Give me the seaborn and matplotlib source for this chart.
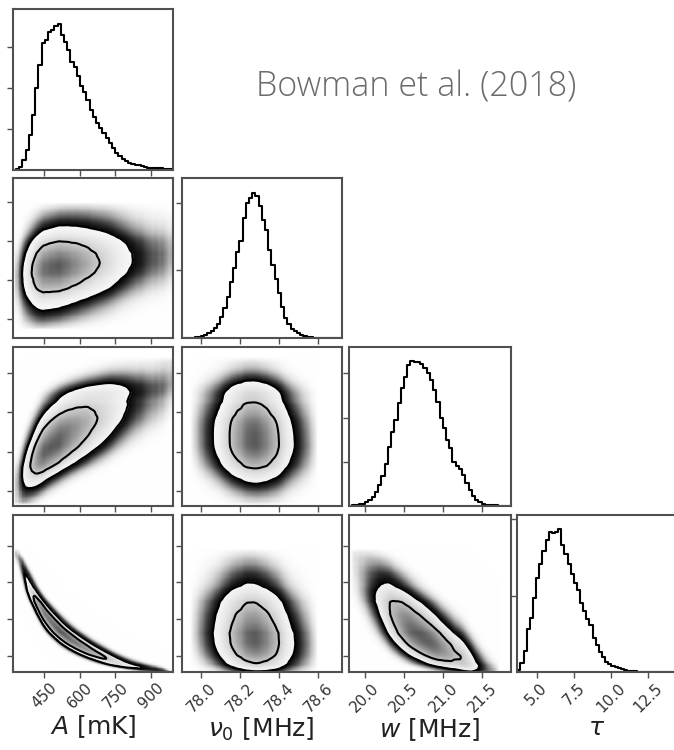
import math
import numpy as np
import pandas as pd
import matplotlib
matplotlib.use("Agg")
import matplotlib.pyplot as plt
import seaborn as sns

# parameter names / axis setup
labels = ["$A$ [mK]", r"$\nu_0$ [MHz]", "$w$ [MHz]", r"$\tau$"]
x_ranges = [(318, 993), (77.90, 78.72), (19.80, 21.86), (3.70, 14.30)]
y_ranges = [(318, 993), (77.90, 78.72), (19.81, 21.84), (3.91, 14.59)]
hist_ranges = [(318, 993), (77.90, 78.72), (19.80, 21.86), (3.70, 14.25)]
ticks = [[450, 600, 750, 900], [78.0, 78.2, 78.4, 78.6],
         [20.0, 20.5, 21.0, 21.5], [5.0, 7.5, 10.0, 12.5]]
tick_labels = [["450", "600", "750", "900"], ["78.0", "78.2", "78.4", "78.6"],
               ["20.0", "20.5", "21.0", "21.5"], ["5.0", "7.5", "10.0", "12.5"]]

# marginal histograms (50 bins each, heights)
hist_A = [0.01, 0.02, 0.08, 0.24, 0.49, 0.85, 1.34, 1.99, 2.56, 3.09,
          3.17, 3.37, 3.41, 3.50, 3.56, 3.29, 3.13, 2.93, 2.64, 2.52,
          2.29, 2.05, 1.89, 1.71, 1.46, 1.30, 1.15, 1.02, 0.89, 0.77,
          0.65, 0.53, 0.42, 0.35, 0.28, 0.23, 0.18, 0.15, 0.12, 0.11,
          0.09, 0.07, 0.06, 0.05, 0.05, 0.04, 0.04, 0.03, 0.02, 0.02]
hist_nu0 = [0.0, 0.0, 0.0, 0.005, 0.01, 0.02, 0.03, 0.05, 0.07, 0.10,
            0.15, 0.21, 0.31, 0.45, 0.60, 0.83, 1.03, 1.28, 1.43, 1.78,
            2.00, 2.07, 2.15, 2.11, 1.95, 1.75, 1.60, 1.30, 1.08, 0.88,
            0.66, 0.46, 0.30, 0.21, 0.14, 0.10, 0.07, 0.045, 0.03, 0.02,
            0.01, 0.005, 0.0, 0.0, 0.0, 0.0, 0.0, 0.0, 0.0, 0.0]
hist_w = [0.0, 0.01, 0.015, 0.03, 0.045, 0.08, 0.13, 0.20, 0.30, 0.47,
          0.67, 0.95, 1.34, 1.68, 1.95, 2.33, 2.67, 2.93, 3.20, 3.28,
          3.26, 3.25, 3.22, 3.12, 3.01, 2.86, 2.63, 2.36, 1.98, 1.76,
          1.49, 1.30, 1.00, 0.90, 0.83, 0.70, 0.51, 0.36, 0.22, 0.13,
          0.08, 0.045, 0.025, 0.015, 0.01, 0.005, 0.0, 0.0, 0.0, 0.0]
hist_tau = [0.03, 0.12, 0.28, 0.56, 0.71, 0.97, 1.23, 1.42, 1.58, 1.73,
            1.83, 1.82, 1.84, 1.87, 1.67, 1.54, 1.41, 1.28, 1.17, 1.07,
            0.91, 0.80, 0.69, 0.61, 0.45, 0.35, 0.26, 0.19, 0.13, 0.10,
            0.08, 0.06, 0.05, 0.035, 0.026, 0.017, 0.013, 0.009, 0.005, 0.003,
            0.0, 0.0, 0.0, 0.0, 0.0, 0.0, 0.0, 0.0, 0.0, 0.0]
hists = [hist_A, hist_nu0, hist_w, hist_tau]

# pairwise correlations (row, col)
corr = {(1, 0): 0.2, (2, 0): 0.7, (2, 1): -0.05,
        (3, 0): -0.97, (3, 1): -0.1, (3, 2): -0.75}
mass_levels = [0.68, 0.95]

# panel geometry in pixels (left, right) and (top, bottom)
W, H = 674, 750
cols_px = [(12.7, 173), (181.7, 341.7), (349, 510.7), (517.3, 675)]
rows_px = [(9.3, 170), (178.3, 338), (346.7, 505.7), (515, 672)]

sns.set_style("ticks")
plt.rcParams["font.family"] = ["DejaVu Sans"]
frame_col = "#505050"

zz = np.linspace(-5.5, 5.5, 4001)
Phi = 0.5 * (1 + np.vectorize(math.erf)(zz / math.sqrt(2)))


def marginal(k, g):
    h = np.array(hists[k])
    lo, hi = hist_ranges[k]
    edges = np.linspace(lo, hi, len(h) + 1)
    centers = 0.5 * (edges[1:] + edges[:-1])
    f = np.interp(g, centers, h, left=0, right=0)
    cdf = np.concatenate([[0], np.cumsum(h)]) / h.sum()
    F = np.clip(np.interp(g, edges, cdf), 1e-4, 1 - 1e-4)
    z = np.interp(F, Phi, zz)
    return f, z


fig = plt.figure(figsize=(W / 100, H / 100), dpi=100)

for r in range(4):
    for c in range(r + 1):
        x0, x1 = cols_px[c]
        y0, y1 = rows_px[r]
        ax = fig.add_axes([x0 / W, 1 - y1 / H, (x1 - x0) / W, (y1 - y0) / H])
        if r == c:
            h = np.array(hists[c])
            lo, hi = hist_ranges[c]
            edges = np.linspace(lo, hi, len(h) + 1)
            df = pd.DataFrame({"val": 0.5 * (edges[1:] + edges[:-1]), "cnt": h})
            sns.histplot(data=df, x="val", weights="cnt", bins=len(h),
                         binrange=(lo, hi), element="step", fill=False,
                         color="black", linewidth=1.5, ax=ax)
            top = h.max() * 1.1
            ax.set_ylim(0, top)
            ax.set_yticks(np.arange(1, int(top) + 1))
        else:
            gx = np.linspace(*x_ranges[c], 260)
            gy = np.linspace(*y_ranges[r], 260)
            fx, zx = marginal(c, gx)
            fy, zy = marginal(r, gy)
            rho = corr[(r, c)]
            Z1 = zx[None, :]
            Z2 = zy[:, None]
            cop = np.exp(-(rho ** 2 * (Z1 ** 2 + Z2 ** 2) - 2 * rho * Z1 * Z2)
                         / (2 * (1 - rho ** 2))) / np.sqrt(1 - rho ** 2)
            D = fy[:, None] * fx[None, :] * cop
            s = np.sort(D.ravel())[::-1]
            cum = np.cumsum(s) / s.sum()
            L68 = s[np.searchsorted(cum, mass_levels[0])]
            L95 = s[np.searchsorted(cum, mass_levels[1])]
            outer = 1 - np.exp(-(3.2 * D / L95) ** 1.05)
            dark = np.where(D < L95, outer, 0.65 * D / D.max())
            gray = 1 - dark
            img = np.dstack([gray, gray, gray])
            ax.imshow(img, extent=[*x_ranges[c], *y_ranges[r]], origin="lower",
                      aspect="auto", interpolation="bilinear")
            ax.contour(gx, gy, D, levels=[L95, L68], colors="black",
                       linewidths=1.5)
            ax.set_ylim(*y_ranges[r])
            ax.set_yticks(ticks[r])
        ax.set_xlim(*x_ranges[c])
        ax.set_xticks(ticks[c])
        ax.set_xlabel("")
        ax.set_ylabel("")
        ax.set_yticklabels([])
        if r == 3:
            ax.set_xticklabels(tick_labels[c], rotation=45, fontsize=11,
                               color="#333333")
            ax.set_xlabel(labels[c], fontsize=18, labelpad=1, color="#222222")
        else:
            ax.set_xticklabels([])
        for sp in ax.spines.values():
            sp.set_visible(True)
            sp.set_color(frame_col)
            sp.set_linewidth(1.5)
        ax.tick_params(direction="out", length=4, width=1, color=frame_col,
                       pad=2)

fig.text(416 / W, 1 - 97 / H, "Bowman et al. (2018)", ha="center",
         va="baseline", fontsize=24.5, color="#6b6b6b",
         family=["Open Sans", "DejaVu Sans"], fontweight="light")

fig.savefig("out.png", dpi=100)
